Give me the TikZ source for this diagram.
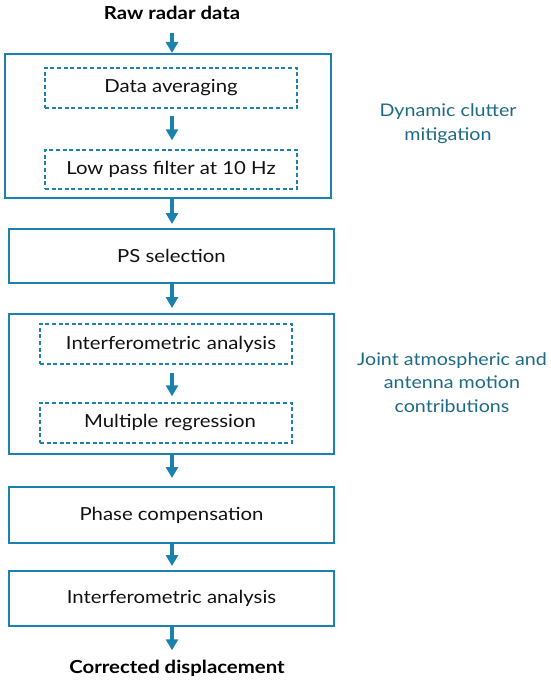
\documentclass[tikz,border=0pt]{standalone}
\usepackage{fontspec}
\setmainfont[FakeStretch=1.13]{Lato}
\usetikzlibrary{arrows.meta,calc}
\definecolor{boxblue}{HTML}{1B82AD}
\definecolor{labelteal}{HTML}{1D6A86}
\definecolor{txt}{HTML}{111111}
\tikzset{
  solidbox/.style={draw=boxblue, line width=2pt, minimum width=325pt, inner sep=0pt},
  dashbox/.style={draw=boxblue, line width=1.4pt, dash pattern=on 4pt off 2.6pt, minimum width=252pt, minimum height=40pt, inner sep=0pt},
  flowarrow/.style={draw=boxblue, line width=3.6pt, -{Triangle[width=12pt,length=11pt]}},
  steptext/.style={font=\fontsize{18}{21}\selectfont, text=txt},
  endtext/.style={font=\fontsize{18}{21}\selectfont\bfseries, text=black},
  sidelabel/.style={font=\fontsize{17.4}{23.5}\selectfont, text=labelteal, align=center}
}
\begin{document}
\begin{tikzpicture}[x=1pt,y=-1pt]
\useasboundingbox (0,0) rectangle (550,682);
\coordinate (col) at (172,0);
\node[endtext] (raw) at (172,13) {Raw radar data};
\node[solidbox, minimum width=326pt, minimum height=144pt] (box1) at (168,126) {};
\node[dashbox, steptext] (d1) at (171,88) {Data averaging};
\node[dashbox, steptext, minimum height=39pt] (d2) at (171,169.5) {Low pass filter at 10 Hz};
\node[solidbox, steptext, minimum height=54pt] (ps) at (171.5,256) {PS selection};
\node[solidbox, minimum height=140pt] (box2) at (171.5,384) {};
\node[dashbox, steptext, text width=252pt, align=center] (d3) at (166,344) {\hspace*{10pt}Interferometric analysis};
\node[dashbox, steptext, text width=252pt, align=center] (d4) at (166,423) {\hspace*{8pt}Multiple regression};
\node[solidbox, steptext, minimum height=56pt] (phase) at (171.5,515) {Phase compensation};
\node[solidbox, steptext, minimum height=55pt] (interf) at (171.5,598.5) {Interferometric analysis};
\node[endtext] (out) at (177,668) {Corrected displacement};
\node[sidelabel] (lab1) at (448,123.5) {Dynamic clutter\\mitigation};
\node[sidelabel] (lab2) at (452,382.5) {Joint atmospheric and\\antenna motion\\contributions};
\draw[flowarrow, shorten <=10pt] (raw.south -| col) -- (box1.north -| col);
\draw[flowarrow, shorten <=7pt, shorten >=9pt] (d1.south -| col) -- (d2.north -| col);
\draw[flowarrow, shorten >=4pt] (box1.south -| col) -- (ps.north -| col);
\draw[flowarrow, shorten >=5pt] (ps.south -| col) -- (box2.north -| col);
\draw[flowarrow, shorten <=8pt, shorten >=6pt] (d3.south -| col) -- (d4.north -| col);
\draw[flowarrow, shorten >=8pt] (box2.south -| col) -- (phase.north -| col);
\draw[flowarrow, shorten >=4pt] (phase.south -| col) -- (interf.north -| col);
\draw[flowarrow, shorten >=6pt] (interf.south -| col) -- (out.north -| col);
\end{tikzpicture}
\end{document}
